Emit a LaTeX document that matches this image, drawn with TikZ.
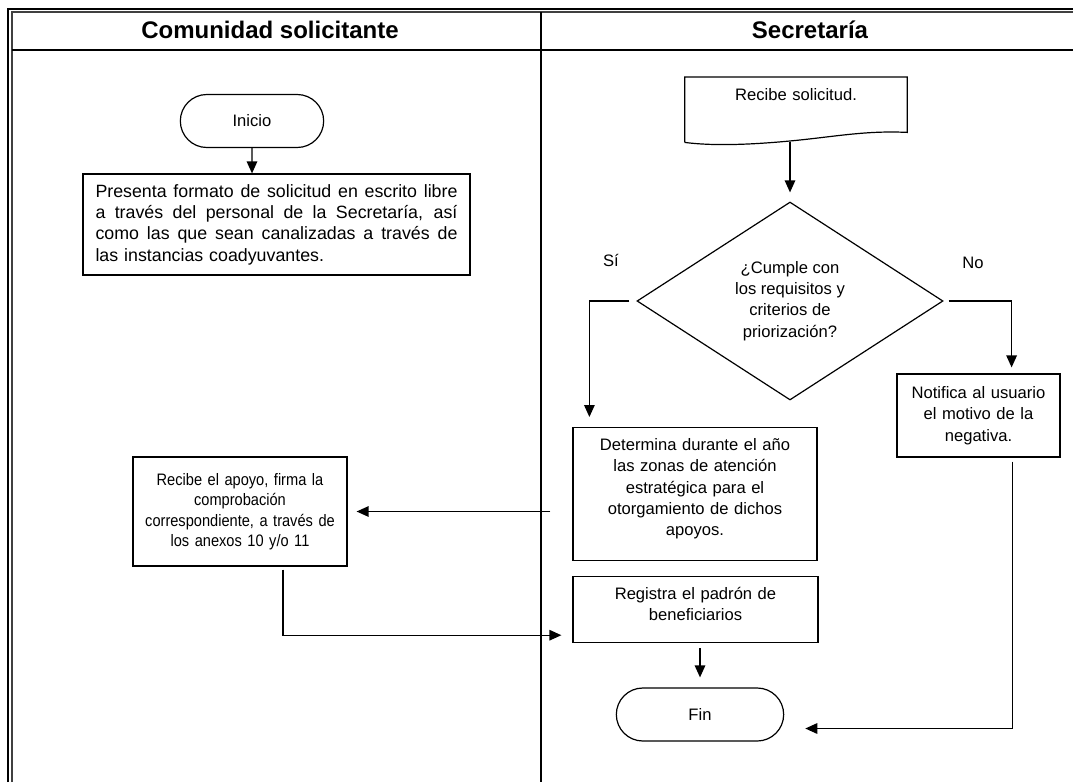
\documentclass[tikz,border=0pt]{standalone}
\usepackage{fontspec}
\setmainfont{Liberation Sans}
\newfontfamily\narrowfont[FakeStretch=0.88]{Liberation Sans}
\usetikzlibrary{shapes.geometric}
\usetikzlibrary{shapes.misc}
\usetikzlibrary{arrows.meta}
\newcommand{\jline}[1]{{\spaceskip=0.25em plus 1fil\makebox[362pt][s]{#1}}}

\begin{document}
\begin{tikzpicture}[x=1pt,y=-1pt,
  every node/.append style={font=\fontsize{16.6}{21.3}\selectfont},
  box/.style={draw,line width=1.2pt,align=center},
  term/.style={draw,line width=1.2pt,rounded rectangle,minimum height=53pt},
  arr/.style={line width=1.4pt,-{Triangle[length=12pt,width=10.5pt]}},
  lane/.style={font=\fontsize{24}{28}\selectfont\bfseries}]
\useasboundingbox (0,0) rectangle (1073,782);

\draw[line width=2pt] (8,782) -- (8,9) -- (1073,9);
\draw[line width=1.5pt,darkgray] (12,782) -- (12,12) -- (1073,12);
\draw[line width=1.8pt] (12,50) -- (1073,50);
\draw[line width=1.5pt] (541,12) -- (541,782);

\node[lane] (hcom) at (270,30) {Comunidad solicitante};
\node[lane] (hsec) at (810,30) {Secretaría};

\node[term,minimum width=150pt] (inicio) at (252,121) {Inicio};
\node[box,text width=362pt,inner xsep=12.5pt,minimum height=101pt,align=left,font=\fontsize{17.8}{21.3}\selectfont] (pres) at (276.5,224.5) {\jline{Presenta formato de solicitud en escrito libre}\\ \jline{a través del personal de la Secretaría, así}\\ \jline{como las que sean canalizadas a través de}\\ las instancias coadyuvantes.};

\node[anchor=north,text width=212pt,inner xsep=5pt,inner ysep=11pt,text height=12pt,text depth=21pt,align=center] (recsol) at (796,77) {Recibe solicitud.};
\draw[line width=1.2pt] (recsol.south west) ++(0,10) -- (recsol.north west) -- (recsol.north east) -- (recsol.south east)
  .. controls +(-40,-2) and +(40,-4) .. ([yshift=-8pt]recsol.south)
  .. controls +(-40,4) and +(30,4) .. ([yshift=-10pt]recsol.south west);

\node[diamond,draw,line width=1.2pt,minimum width=306pt,minimum height=198pt,inner sep=0pt,align=center] (dec) at (790,301) {¿Cumple con\\ los requisitos y\\ criterios de\\ priorización?};
\node (si) at (611,260) {Sí};
\node (no) at (973,263) {No};

\node[box,anchor=north,text width=234pt,inner xsep=5pt,inner ysep=11pt,text height=12pt,text depth=99pt] (det) at (695,427) {Determina durante el año\\ las zonas de atención\\ estratégica para el\\ otorgamiento de dichos\\ apoyos.};
\node[box,text width=153pt,inner xsep=5pt,minimum height=83pt] (notif) at (978.5,415.5) {Notifica al usuario\\ el motivo de la\\ negativa.};
\node[box,text width=210pt,inner xsep=2pt,minimum height=109pt,font=\narrowfont\fontsize{16.6}{20.5}\selectfont] (recap) at (240,511.5) {Recibe el apoyo, firma la\\ comprobación\\ correspondiente, a través de\\ los anexos 10 y/o 11};
\node[box,anchor=north,text width=235pt,inner xsep=5pt,inner ysep=11pt,text height=12pt,text depth=32pt] (reg) at (695.5,576) {Registra el padrón de\\ beneficiarios};
\node[term,minimum width=174pt] (fin) at (700,714.5) {Fin};

\draw[arr] (inicio) -- (pres.north -| inicio);
\draw[arr,shorten <=10pt,shorten >=9pt] (recsol.south -| dec.north) -- (dec.north);
\draw[arr,shorten <=7pt,shorten >=10pt] (dec.west) -| ([xshift=17pt]det.north west);
\draw[arr,shorten <=5pt,shorten >=6pt] (dec.east) -| ([xshift=-49pt]notif.north east);
\draw[arr,shorten <=22pt,shorten >=9pt] (det.west |- recap.east) -- (recap.east);
\draw[arr,shorten <=3pt,shorten >=11pt] ([xshift=43pt]recap.south) |- ([yshift=8pt]reg.south west);
\draw[arr,shorten <=5pt,shorten >=10pt] (fin.north |- reg.south) -- (fin.north);
\draw[arr,shorten <=4pt,shorten >=21pt] ([xshift=-48pt]notif.south east) |- ([yshift=-14pt]fin.east);
\end{tikzpicture}
\end{document}
